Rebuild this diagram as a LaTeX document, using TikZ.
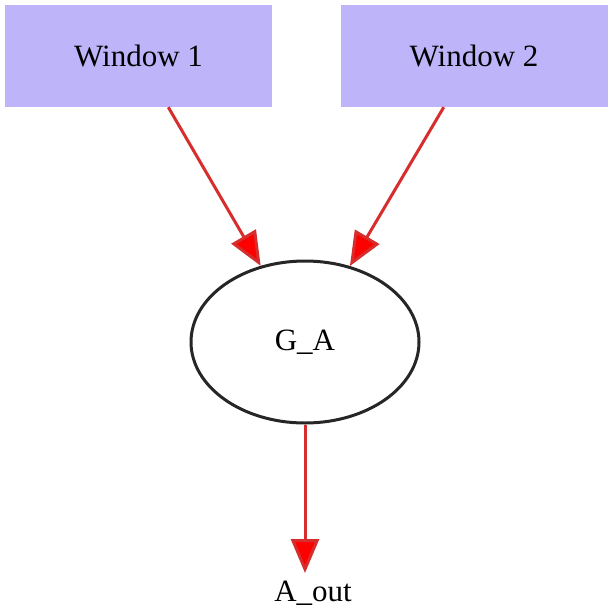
\documentclass[tikz,border=0pt]{standalone}
\usepackage{fontspec}
\setmainfont{Liberation Serif}
\usetikzlibrary{shapes.geometric,arrows.meta}
\definecolor{winfill}{RGB}{190,180,250}
\definecolor{edgered}{RGB}{215,45,45}
\tikzset{every node/.style={align=center, font=\fontsize{31}{37}\selectfont},
  >={Triangle[length=34pt,width=28pt,fill=red]},
  window/.style={rectangle, fill=winfill, minimum width=267pt, minimum height=102pt, inner sep=0pt},
  gate/.style={ellipse, draw=black!85, line width=3pt, minimum width=228pt, minimum height=162pt, inner sep=0pt},
  flow/.style={->, draw=edgered, line width=3pt}}

\begin{document}
\begin{tikzpicture}[x=1pt, y=-1pt]
            \useasboundingbox (0,0) rectangle (612,610);
            \node [window] (w1) at (138.5,56) {Window 1};
            \node [window] (w2) at (474,56) {Window 2};
            \node [gate] (ga) at (305,342) {G\_A};
            \node [anchor=north, inner xsep=2pt, inner ysep=8pt] (aout) at (313,573) {A\_out};
            \path[flow] (w1) edge (ga)
                (w2) edge (ga)
                (ga) edge (ga.south |- aout.north);
        \end{tikzpicture}
\end{document}
